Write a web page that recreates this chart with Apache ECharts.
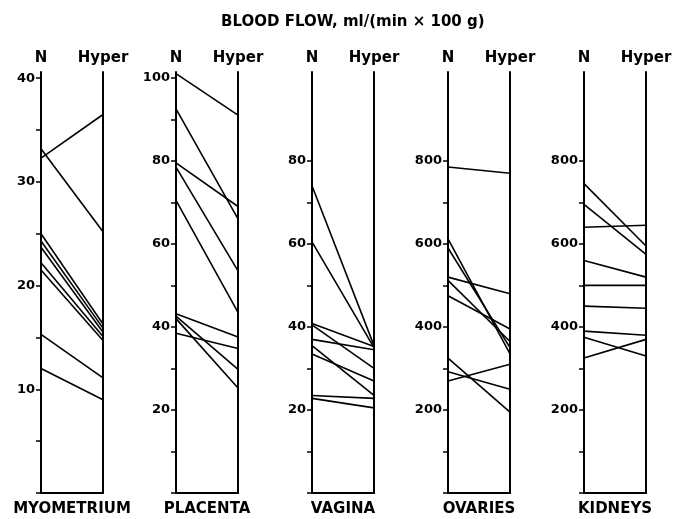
<!DOCTYPE html>
<html>
<head>
<meta charset="utf-8">
<script src="https://cdn.jsdelivr.net/npm/echarts@6/dist/echarts.min.js"></script>
<style>
  html, body { margin: 0; background: #fff; }
  #chart { width: 684px; height: 519px; }
</style>
</head>
<body>
<div id="chart"></div>
<script>
// blood flow, ml/(min x 100 g), normal (N) vs hyperthermia (Hyper)
const panels = ['MYOMETRIUM', 'PLACENTA', 'VAGINA', 'OVARIES', 'KIDNEYS'];
const conditions = ['N', 'Hyper'];

const myometriumN     = [32.3, 33.2, 25.0, 24.3, 23.7, 22.2, 21.5, 15.3, 12.0];
const myometriumHyper = [36.5, 25.2, 16.3, 15.9, 15.5, 15.1, 14.7, 11.1, 9.0];

const placentaN     = [101, 92.5, 79.5, 78.5, 70.5, 43.2, 42.6, 42.0, 38.5];
const placentaHyper = [91, 66, 69, 53.5, 43.5, 37.6, 29.8, 25.3, 34.8];

const vaginaN     = [74, 60.5, 40.8, 40.5, 37.0, 35.5, 33.5, 23.5, 22.8];
const vaginaHyper = [35.5, 35.0, 35.3, 30.0, 34.5, 23.5, 27.0, 22.8, 20.5];

const ovariesN     = [785, 612, 590, 520, 512, 475, 325, 292, 270];
const ovariesHyper = [770, 335, 350, 480, 365, 395, 195, 250, 310];

const kidneysN     = [745, 695, 640, 560, 500, 450, 390, 375, 325];
const kidneysHyper = [595, 575, 645, 520, 500, 445, 380, 330, 370];

const nValues = [myometriumN, placentaN, vaginaN, ovariesN, kidneysN];
const hyperValues = [myometriumHyper, placentaHyper, vaginaHyper, ovariesHyper, kidneysHyper];

const axisMax = [40.6, 101.4, 101.4, 1014, 1014];
const tickLabels = [
  [10, 20, 30, 40],
  [20, 40, 60, 80, 100],
  [20, 40, 60, 80],
  [200, 400, 600, 800],
  [200, 400, 600, 800]
];
// all tick marks (labelled and half-way ones)
const tickMarks = [
  [0, 5, 10, 15, 20, 25, 30, 35, 40],
  [0, 10, 20, 30, 40, 50, 60, 70, 80, 90, 100],
  [0, 10, 20, 30, 40, 50, 60, 70, 80],
  [0, 100, 200, 300, 400, 500, 600, 700, 800],
  [0, 100, 200, 300, 400, 500, 600, 700, 800]
];

const lefts = [41, 176, 312, 448, 584];
const font = 'DejaVu Sans';

let chart = echarts.init(document.getElementById('chart'));

let grid = [], xAxis = [], yAxis = [], series = [];
panels.forEach((name, i) => {
  grid.push({left: lefts[i], width: 62, top: 72, height: 421, outerBoundsMode: 'none'});
  // bottom axis: base line + panel name
  xAxis.push({
    type: 'category', gridIndex: i, data: conditions, boundaryGap: false,
    position: 'bottom',
    axisLine: {show: true, lineStyle: {color: '#000', width: 2}},
    axisTick: {show: false}, axisLabel: {show: false}, splitLine: {show: false},
    name: name, nameLocation: 'middle', nameGap: 9,
    nameTextStyle: {color: '#000', fontFamily: font, fontWeight: 'bold', fontSize: 15}
  });
  // top axis: N / Hyper labels
  xAxis.push({
    type: 'category', gridIndex: i, data: conditions, boundaryGap: false,
    position: 'top',
    axisLine: {show: false, onZero: false}, axisTick: {show: false},
    axisLabel: {show: true, interval: 0, hideOverlap: false, margin: 6, color: '#000',
      fontFamily: font, fontWeight: 'bold', fontSize: 15},
    splitLine: {show: false}
  });
  yAxis.push({
    type: 'value', gridIndex: i, position: 'left', min: 0, max: axisMax[i],
    axisLine: {show: true, lineStyle: {color: '#000', width: 2}},
    axisTick: {show: true, length: 5, lineStyle: {color: '#000', width: 1.5},
      customValues: tickMarks[i]},
    axisLabel: {customValues: tickLabels[i], margin: 6, color: '#000',
      fontFamily: font, fontWeight: 'bold', fontSize: 13},
    splitLine: {show: false}
  });
  yAxis.push({
    type: 'value', gridIndex: i, position: 'right', min: 0, max: axisMax[i],
    axisLine: {show: true, lineStyle: {color: '#000', width: 2}},
    axisTick: {show: false}, axisLabel: {show: false}, splitLine: {show: false}
  });
  nValues[i].forEach((v, k) => {
    series.push({
      type: 'line', xAxisIndex: i * 2, yAxisIndex: i * 2,
      data: [v, hyperValues[i][k]],
      symbol: 'none', silent: true,
      lineStyle: {color: '#000', width: 1.6}
    });
  });
});

chart.setOption({
  animation: false,
  backgroundColor: '#fff',
  title: {
    text: 'BLOOD FLOW, ml/(min × 100 g)',
    left: 216, top: 10,
    textStyle: {color: '#000', fontFamily: font, fontWeight: 'bold', fontSize: 15}
  },
  grid: grid,
  xAxis: xAxis,
  yAxis: yAxis,
  series: series
});
</script>
</body>
</html>
